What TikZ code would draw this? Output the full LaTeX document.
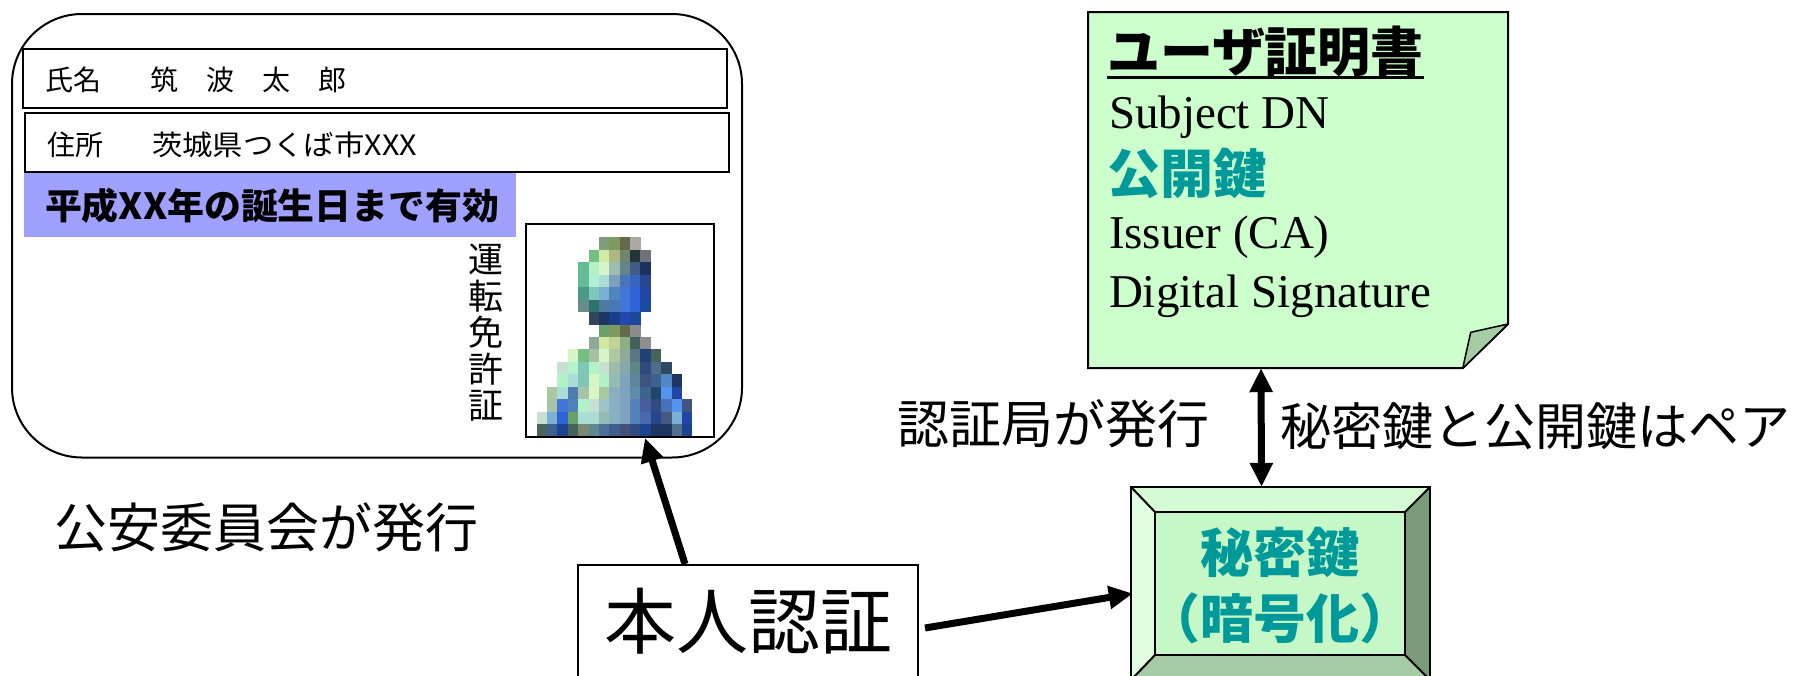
\documentclass[tikz,border=0pt]{standalone}
\usepackage{fontspec}
\usepackage{graphicx}
\usetikzlibrary{arrows.meta,calc}
\newfontfamily\jp{Noto Sans CJK JP}
\newfontfamily\tms{Liberation Serif}
\definecolor{notegreen}{HTML}{CCFFCC}
\definecolor{flapgreen}{HTML}{A6CCA6}
\definecolor{bandblue}{HTML}{A0A0FF}
\definecolor{tealtxt}{HTML}{009999}
\definecolor{bvtop}{HTML}{D4FBD4}
\definecolor{bvleft}{HTML}{E0FFE0}
\definecolor{bvright}{HTML}{7A9A7A}
\definecolor{bvbottom}{HTML}{A6CCA6}
\definecolor{bvcenter}{HTML}{C6F7C6}
\newcommand\pxrow[3]{%
  \foreach \h [count=\i from #2] in {#3}{%
    \edef\pxtmp{\noexpand\definecolor{pxc}{HTML}{\h}}\pxtmp
    \fill[pxc] (536.7+10.37*\i, 237.3+12.46*#1) rectangle ++(10.6,12.7);
  }}
\newcommand\fsz[1]{\fontsize{#1}{#1}\selectfont}
\tikzset{
  txt/.style={inner sep=0pt, outer sep=0pt},
  arr/.style={-{Triangle[length=24pt,width=22pt]}, line width=7pt},
  dblarr/.style={{Triangle[length=24pt,width=22pt]}-{Triangle[length=24pt,width=22pt]}, line width=7pt},
  boxline/.style={line width=2pt}
}
\begin{document}
\begin{tikzpicture}[x=1pt,y=-1pt]
\useasboundingbox (0,0) rectangle (1793,675);
\clip (0,0) rectangle (1793,675);
% ---------- licence card ----------
\draw[boxline, rounded corners=70pt] (12,14) rectangle (742,457.5);
\node[draw, boxline, minimum width=704pt, minimum height=59pt, inner sep=0pt] (namebox) at (374.7,78.8) {};
\node[draw, boxline, minimum width=704pt, minimum height=59pt, inner sep=0pt] (addrbox) at (377,142.8) {};
\node[fill=bandblue, minimum width=492pt, minimum height=63.4pt, inner sep=0pt] (band) at (270,205) {};
\node[txt, anchor=west, font=\jp\fsz{28}] (namelbl) at (45,80) {氏名};
\node[txt, anchor=west, font=\jp\fsz{28}] (nameval) at (150,80) {筑　波　太　郎};
\node[txt, anchor=west, font=\jp\fsz{28}] (addrlbl) at (47,144.5) {住所};
\node[txt, anchor=west, font=\jp\fsz{28}] (addrval) at (152,144.5) {\scalebox{1.085}[1]{茨城県つくば市XXX}};
\node[txt, anchor=west, font=\jp\bfseries\fsz{36}] (valid) at (45,206) {\scalebox{1.025}[1]{平成XX年の誕生日まで有効}};
\node[txt, align=center, font=\jp\fontsize{35}{36.5}\selectfont] (lictitle) at (486,333) {運\\転\\免\\許\\証};
% pixelated portrait
\pxrow{0}{6}{7F9E7A,7E9A60,636B4C,ACA8A3}
\pxrow{1}{5}{73BF84,D3EAA2,B0B683,718470,23333A,6E737A}
\pxrow{2}{4}{62BC96,B3F2C7,D6F5CC,9EBCAF,62858B,3E5C87,1C325C}
\pxrow{3}{4}{62BC96,B0EFD4,ACDCD6,7C9FBB,4874BC,3565BC,27488F}
\pxrow{4}{4}{4A9A89,7FC6B8,7AB0D3,4E86BC,4375DB,2F62D5,2244A5}
\pxrow{5}{4}{688B8E,2F726A,4D7BA0,4A78B5,4375DB,2F62D5,1A4BA0}
\pxrow{6}{5}{33465A,1E3461,193E8A,2548AD,1B489C}
\pxrow{7}{6}{6AA06A,7E9A60,636B4C,8C8C8C}
\pxrow{8}{5}{8FA89A,D2E8A0,C0D49A,8DAF84,45605A,8E8E8E}
\pxrow{9}{3}{D8F5C8,73BF84,A5C2A7,D7F5C8,B0C8A0,8EA89A,5A7682,204377,46625A}
\pxrow{10}{2}{C8E0D0,B4F2C8,7EC6B8,B3F2C8,C8E0D0,A0BAAA,88A8AF,5E8686,2F4A80,4F6E8C,2F4A62}
\pxrow{11}{2}{B3F2C8,ACDCD6,7EC6B8,D8F5C8,B3F2C8,94BBB4,7FA3BF,5F869E,3F5280,3E6290,4F88C4,1E3461}
\pxrow{12}{1}{ABC8A0,ACDCD6,507CB0,A8C4A8,D8F5C8,A8C8A0,88AFBF,7FA3BF,5F8CAA,3F6290,22456A,5294EE,2244A5}
\pxrow{13}{1}{A8C4A8,4375DB,5082B8,B3F2C8,C8E0D0,9EC4CA,88AFC4,7FA3BF,5482B8,4A5CA0,304A80,4A70B8,5294EE,405480}
\pxrow{14}{0}{C8E0D0,7AB0D3,2F62D5,6A9E6A,ACDCD6,ACDCD6,94BBB4,88AFC4,7FA3BF,5482B8,4A68B0,26468E,465A80,7AB0D3,2244A5}
\pxrow{15}{0}{4A6460,3E6290,1A4490,46625A,7A8A70,5F8A8E,4D7098,405E90,44507A,2E4C80,1A4490,1E3461,1E3461,4F7090,1A4490}
\node[draw, boxline, minimum width=188pt, minimum height=213pt, inner sep=0pt] (photo) at (620,330.5) {};
\node[txt, anchor=west, font=\jp\fsz{53}] (issuer1) at (54,527) {公安委員会が発行};
% ---------- authentication ----------
\node[draw, boxline, minimum width=340pt, minimum height=112pt, inner sep=0pt, font=\jp\fsz{72}] (auth) at (748,621) {本人認証};
% ---------- certificate note ----------
\node[minimum width=420pt, minimum height=356pt, inner sep=0pt] (cert) at (1298,190) {};
\draw[boxline, fill=notegreen, line join=miter] (1088,12) -- (1508,12) -- (1508,324) -- (1463,368) -- (1088,368) -- cycle;
\draw[line width=1.5pt, fill=flapgreen, line join=round] (1508,324) -- (1470.7,332.3) -- (1462.7,368.3) -- cycle;
\node[txt, anchor=west, font=\jp\bfseries\fsz{53}] (certtitle) at (1107,51) {ユーザ証明書};
\draw[line width=3pt] (certtitle.south west |- 0,77) -- (certtitle.south east |- 0,77);
\node[txt, anchor=base west, font=\tms\fsz{47}] (subj) at (1109,128) {Subject DN};
\node[txt, anchor=west, font=\jp\bfseries\fsz{53}, text=tealtxt] (pubkey) at (1107,173.5) {公開鍵};
\node[txt, anchor=base west, font=\tms\fsz{47}] (iss) at (1109,248) {Issuer (CA)};
\node[txt, anchor=base west, font=\tms\fsz{47}] (dsig) at (1109,307) {Digital Signature};
% ---------- private key bevel box ----------
\node[minimum width=299pt, minimum height=193pt, inner sep=0pt] (keybox) at (1280.5,583.5) {};
\fill[bvtop] (1131,487) -- (1430,487) -- (1405,512) -- (1155,512) -- cycle;
\fill[bvleft] (1131,487) -- (1155,512) -- (1155,655) -- (1131,680) -- cycle;
\fill[bvright] (1430,487) -- (1430,680) -- (1405,655) -- (1405,512) -- cycle;
\fill[bvbottom] (1131,680) -- (1155,655) -- (1405,655) -- (1430,680) -- cycle;
\fill[bvcenter] (1155,512) rectangle (1405,655);
\draw[boxline] (1131,487) rectangle (1430,680);
\draw[boxline] (1155,512) rectangle (1405,655);
\draw[boxline] (1131,487) -- (1155,512) (1430,487) -- (1405,512) (1131,680) -- (1155,655) (1430,680) -- (1405,655);
\node[txt, align=center, font=\jp\bfseries\fontsize{53}{66}\selectfont, text=tealtxt] (keytxt) at (1280,586) {秘密鍵\\（暗号化）};
% ---------- labels ----------
\node[txt, anchor=west, font=\jp\fsz{52}] (calbl) at (897,424) {認証局が発行};
\node[txt, anchor=west, font=\jp\fsz{51}] (pairlbl) at (1280,426) {秘密鍵と公開鍵はペア};
% ---------- connectors ----------
\draw[arr] ($(auth.north west)+(108,0)$) -- ($(photo.south west)+(120,0)$);
\draw[arr] ($(auth.east)+(6,7)$) -- ($(keybox.west)+(2,10)$);
\draw[dblarr] ([xshift=-37pt]cert.south) -- ([xshift=-19pt]keybox.north);
\end{tikzpicture}
\end{document}
